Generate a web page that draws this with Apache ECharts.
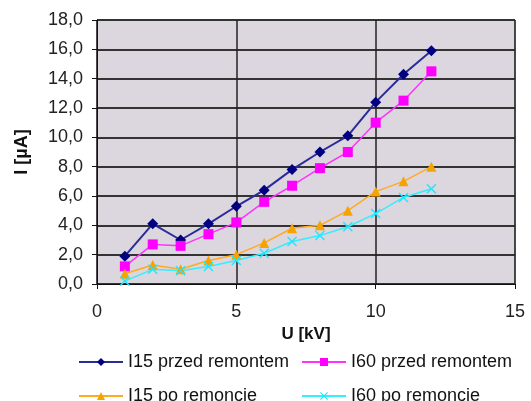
<!DOCTYPE html>
<html>
<head>
<meta charset="utf-8">
<script src="https://cdn.jsdelivr.net/npm/echarts@6/dist/echarts.min.js"></script>
<style>
html,body{margin:0;padding:0;background:#fff;}
#chart{width:531px;height:401px;}
</style>
</head>
<body>
<div id="chart"></div>
<script>
// napiecie U [kV]
var napiecie = [1, 2, 3, 4, 5, 6, 7, 8, 9, 10, 11, 12];
var nazwy = ['I15 przed remontem', 'I60 przed remontem', 'I15 po remoncie', 'I60 po remoncie'];
var i15Przed = [1.9, 4.1, 3.0, 4.1, 5.3, 6.4, 7.8, 9.0, 10.1, 12.4, 14.3, 15.9];
var i60Przed = [1.2, 2.7, 2.6, 3.4, 4.2, 5.6, 6.7, 7.9, 9.0, 11.0, 12.5, 14.5];
var i15Po = [0.7, 1.3, 1.0, 1.6, 2.0, 2.8, 3.8, 4.0, 5.0, 6.3, 7.0, 8.0];
var i60Po = [0.2, 1.0, 0.9, 1.2, 1.6, 2.1, 2.9, 3.3, 3.9, 4.8, 5.9, 6.5];

var krzyzyk = 'path://M0,1 L1,0 L5,4 L9,0 L10,1 L6,5 L10,9 L9,10 L5,6 L1,10 L0,9 L4,5 Z';

function pary(y){
	var out = [];
	for (var i = 0; i < napiecie.length; i++) out.push([napiecie[i], y[i]]);
	return out;
}

var chart = echarts.init(document.getElementById('chart'));

var font = 'Liberation Sans, Arial, sans-serif';

function legenda(name, left, top){
	return {
		data: [name],
		left: left,
		top: top,
		itemWidth: 44,
		itemHeight: 10,
		textStyle: {fontFamily: font, fontSize: 18, color: '#111'}
	};
}

var option = {
	animation: false,
	legend: [
		legenda(nazwy[0], 73, 348),
		legenda(nazwy[1], 296, 348),
		legenda(nazwy[2], 73, 382),
		legenda(nazwy[3], 296, 382)
	],
	grid: {
		left: 97, right: 16, top: 20, bottom: 117,
		show: true,
		backgroundColor: '#dcd6de',
		borderColor: '#888',
		borderWidth: 1
	},
	xAxis: {
		type: 'value',
		min: 0, max: 15, interval: 5,
		name: 'U [kV]',
		nameLocation: 'middle',
		nameGap: 40,
		nameTextStyle: {fontFamily: font, fontSize: 17, fontWeight: 'bold', color: '#111'},
		axisLine: {lineStyle: {color: '#111', width: 1}},
		axisTick: {show: true, length: 5, lineStyle: {color: '#111'}},
		axisLabel: {fontFamily: font, fontSize: 18, color: '#222', margin: 19},
		splitLine: {show: true, lineStyle: {color: '#222', width: 1.5}}
	},
	yAxis: {
		type: 'value',
		min: 0, max: 18, interval: 2,
		name: 'I [\u00b5A]',
		nameLocation: 'middle',
		nameGap: 66,
		nameRotate: 90,
		nameTextStyle: {fontFamily: font, fontSize: 18, fontWeight: 'bold', color: '#111'},
		axisLine: {show: true, lineStyle: {color: '#111', width: 1}},
		axisTick: {show: true, length: 5, lineStyle: {color: '#111'}},
		axisLabel: {
			fontFamily: font, fontSize: 18, color: '#222', margin: 14,
			formatter: function(v){ return v.toFixed(1).replace('.', ','); }
		},
		splitLine: {show: true, lineStyle: {color: '#333', width: 2}}
	},
	series: [
		{
			name: nazwy[0], type: 'line', data: pary(i15Przed),
			symbol: 'diamond', symbolSize: 11,
			lineStyle: {color: '#2b2b99', width: 2},
			itemStyle: {color: '#000080'}
		},
		{
			name: nazwy[1], type: 'line', data: pary(i60Przed),
			symbol: 'rect', symbolSize: 10,
			lineStyle: {color: '#ff33ff', width: 1.5},
			itemStyle: {color: '#ff00ff'}
		},
		{
			name: nazwy[2], type: 'line', data: pary(i15Po),
			symbol: 'triangle', symbolSize: 10,
			lineStyle: {color: '#ffaa22', width: 1.5},
			itemStyle: {color: '#f5a300'}
		},
		{
			name: nazwy[3], type: 'line', data: pary(i60Po),
			symbol: krzyzyk, symbolSize: 10,
			lineStyle: {color: '#33eeff', width: 1.5},
			itemStyle: {color: '#22e5ff'}
		}
	]
};

chart.setOption(option);
window.onresize = chart.resize;
</script>
</body>
</html>
